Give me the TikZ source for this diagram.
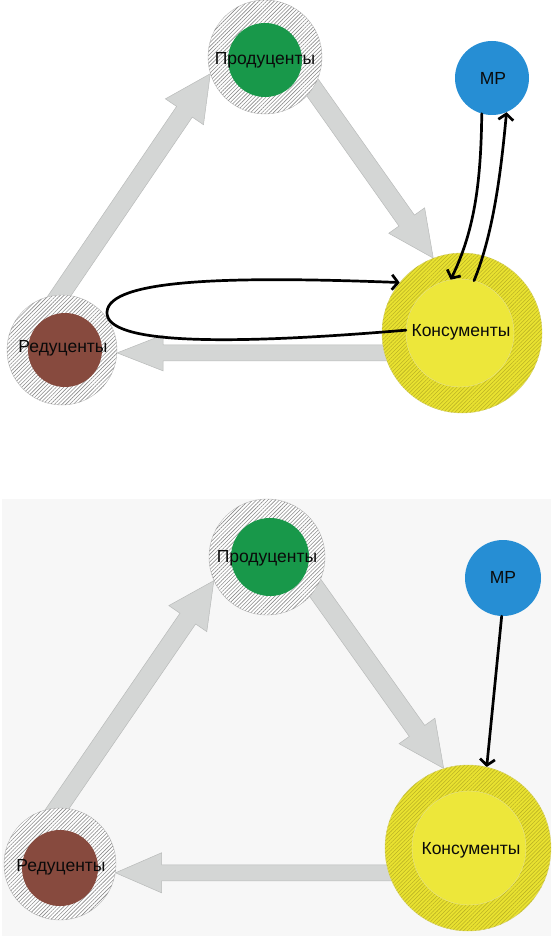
\documentclass[tikz,border=0pt]{standalone}
\usepackage{fontspec}
\setmainfont{Liberation Sans}
\usetikzlibrary{calc,arrows.meta,patterns.meta}

\definecolor{ringline}{RGB}{140,140,140}
\definecolor{prodgreen}{RGB}{24,152,74}
\definecolor{redbrown}{RGB}{135,74,62}
\definecolor{mpblue}{RGB}{38,142,212}
\definecolor{konsyellow}{RGB}{237,231,58}
\definecolor{konsring}{RGB}{233,226,48}
\definecolor{konsline}{RGB}{186,178,36}
\definecolor{flowfill}{RGB}{212,214,213}
\definecolor{flowedge}{RGB}{185,187,186}
\definecolor{panelbg}{RGB}{247,247,247}
\definecolor{textdark}{RGB}{10,10,10}

\pgfdeclarelayer{panel}
\pgfdeclarelayer{flows}
\pgfsetlayers{panel,flows,main}

\tikzset{
  ring/.style={circle, inner sep=0pt, minimum size=#1, draw=gray!55, line width=0.4pt,
    fill=white, postaction={pattern={Lines[angle=45,distance=2.7pt,line width=0.6pt]},
    pattern color=ringline}},
  konsringstyle/.style={circle, inner sep=0pt, minimum size=#1, draw=konsline!60, line width=0.4pt,
    fill=konsring, postaction={pattern={Lines[angle=45,distance=2.7pt,line width=0.55pt]},
    pattern color=konsline}},
  core/.style={circle, inner sep=0pt, minimum size=#1, draw=none},
  lbl/.style={inner sep=0pt, text=textdark, font=\fontsize{17.5}{20}\selectfont},
  flowshape/.style={fill=flowfill, draw=flowedge, line width=0.5pt, line join=miter},
  link/.style={draw=black, line width=2.7pt, line cap=round,
    -{Straight Barb[length=6pt,width=15pt]}},
}

% Broad grey arrow: start point, tip point, shaft half-width, head half-width
\newcommand\flowarrow[4]{%
  \path[flowshape] let
      \p1=(#1), \p2=(#2),
      \n1={atan2(\y2-\y1,\x2-\x1)},
      \n2={veclen(\x2-\x1,\y2-\y1)}
    in [shift={(\p1)}, rotate=\n1]
      (-22pt,-#3pt) -- ({\n2-46pt},-#3pt) -- ({\n2-46pt},-#4pt) -- ({\n2+0pt},0pt)
      -- ({\n2-46pt},#4pt) -- ({\n2-46pt},#3pt) -- (-22pt,#3pt) -- cycle;
}

\begin{document}
\begin{tikzpicture}[x=1pt,y=1pt]
\useasboundingbox (0,0) rectangle (551,-936);

\begin{pgfonlayer}{panel}
  \fill[white] (0,0) rectangle (551,-499);
  \fill[panelbg] (2,-499) rectangle (551,-936);
\end{pgfonlayer}

% ---------- upper scheme ----------
\node[ring=114] (prodA) at (265,-57) {};
\node[core=74, fill=prodgreen] (prodAin) at (265,-60) {};
\node[ring=110] (redA) at (62,-350) {};
\node[core=74, fill=redbrown] (redAin) at (65,-350) {};
\node[konsringstyle=160] (konsA) at (462,-333) {};
\node[core=108, fill=konsyellow, draw=konsline!40, line width=0.3pt] (konsAin) at (460,-333) {};
\node[core=74, fill=mpblue] (mpA) at (492,-78) {};

\node[lbl] (prodAtxt) at (265,-60) {Продуценты};
\node[lbl] (redAtxt) at (63,-348) {Редуценты};
\node[lbl] (konsAtxt) at (461,-332) {Консументы};
\node[lbl] (mpAtxt) at (493,-78) {МР};

\begin{pgfonlayer}{flows}
  \flowarrow{redA.92}{prodA.197}{9.5}{23}
  \flowarrow{prodA.327}{konsA.111}{9.5}{22}
  \flowarrow{konsA.center |- redA.357}{redA.357}{8}{18}
\end{pgfonlayer}

\draw[link] (konsAin.177) .. controls (230,-345) and (105,-345) .. (107,-312)
  .. controls (109,-279) and (230,-276) .. (konsA.141);
\draw[link] (mpA.254) .. controls (481,-180) and (475,-230) .. (konsAin.100);
\draw[link] (konsAin.75) .. controls (495,-230) and (502,-160) .. (mpA.293);

% ---------- lower scheme ----------
\node[ring=116] (prodB) at (267,-557) {};
\node[core=78, fill=prodgreen] (prodBin) at (270,-557) {};
\node[ring=112] (redB) at (60,-864) {};
\node[core=76, fill=redbrown] (redBin) at (60,-868) {};
\node[konsringstyle=166] (konsB) at (468,-848) {};
\node[core=114, fill=konsyellow, draw=konsline!40, line width=0.3pt] (konsBin) at (469,-848) {};
\node[core=76, fill=mpblue] (mpB) at (503,-578) {};

\node[lbl] (prodBtxt) at (267,-558) {Продуценты};
\node[lbl] (redBtxt) at (61,-867) {Редуценты};
\node[lbl] (konsBtxt) at (471,-850) {Консументы};
\node[lbl] (mpBtxt) at (503,-577) {МР};

\begin{pgfonlayer}{flows}
  \flowarrow{redB.92}{prodB.204}{9.5}{23}
  \flowarrow{prodB.327}{konsB.107}{9.5}{22}
  \flowarrow{konsB.center |- redB.351}{redB.351}{8}{20}
\end{pgfonlayer}

\draw[link] (mpB.268) -- (konsB.77);
\end{tikzpicture}
\end{document}
